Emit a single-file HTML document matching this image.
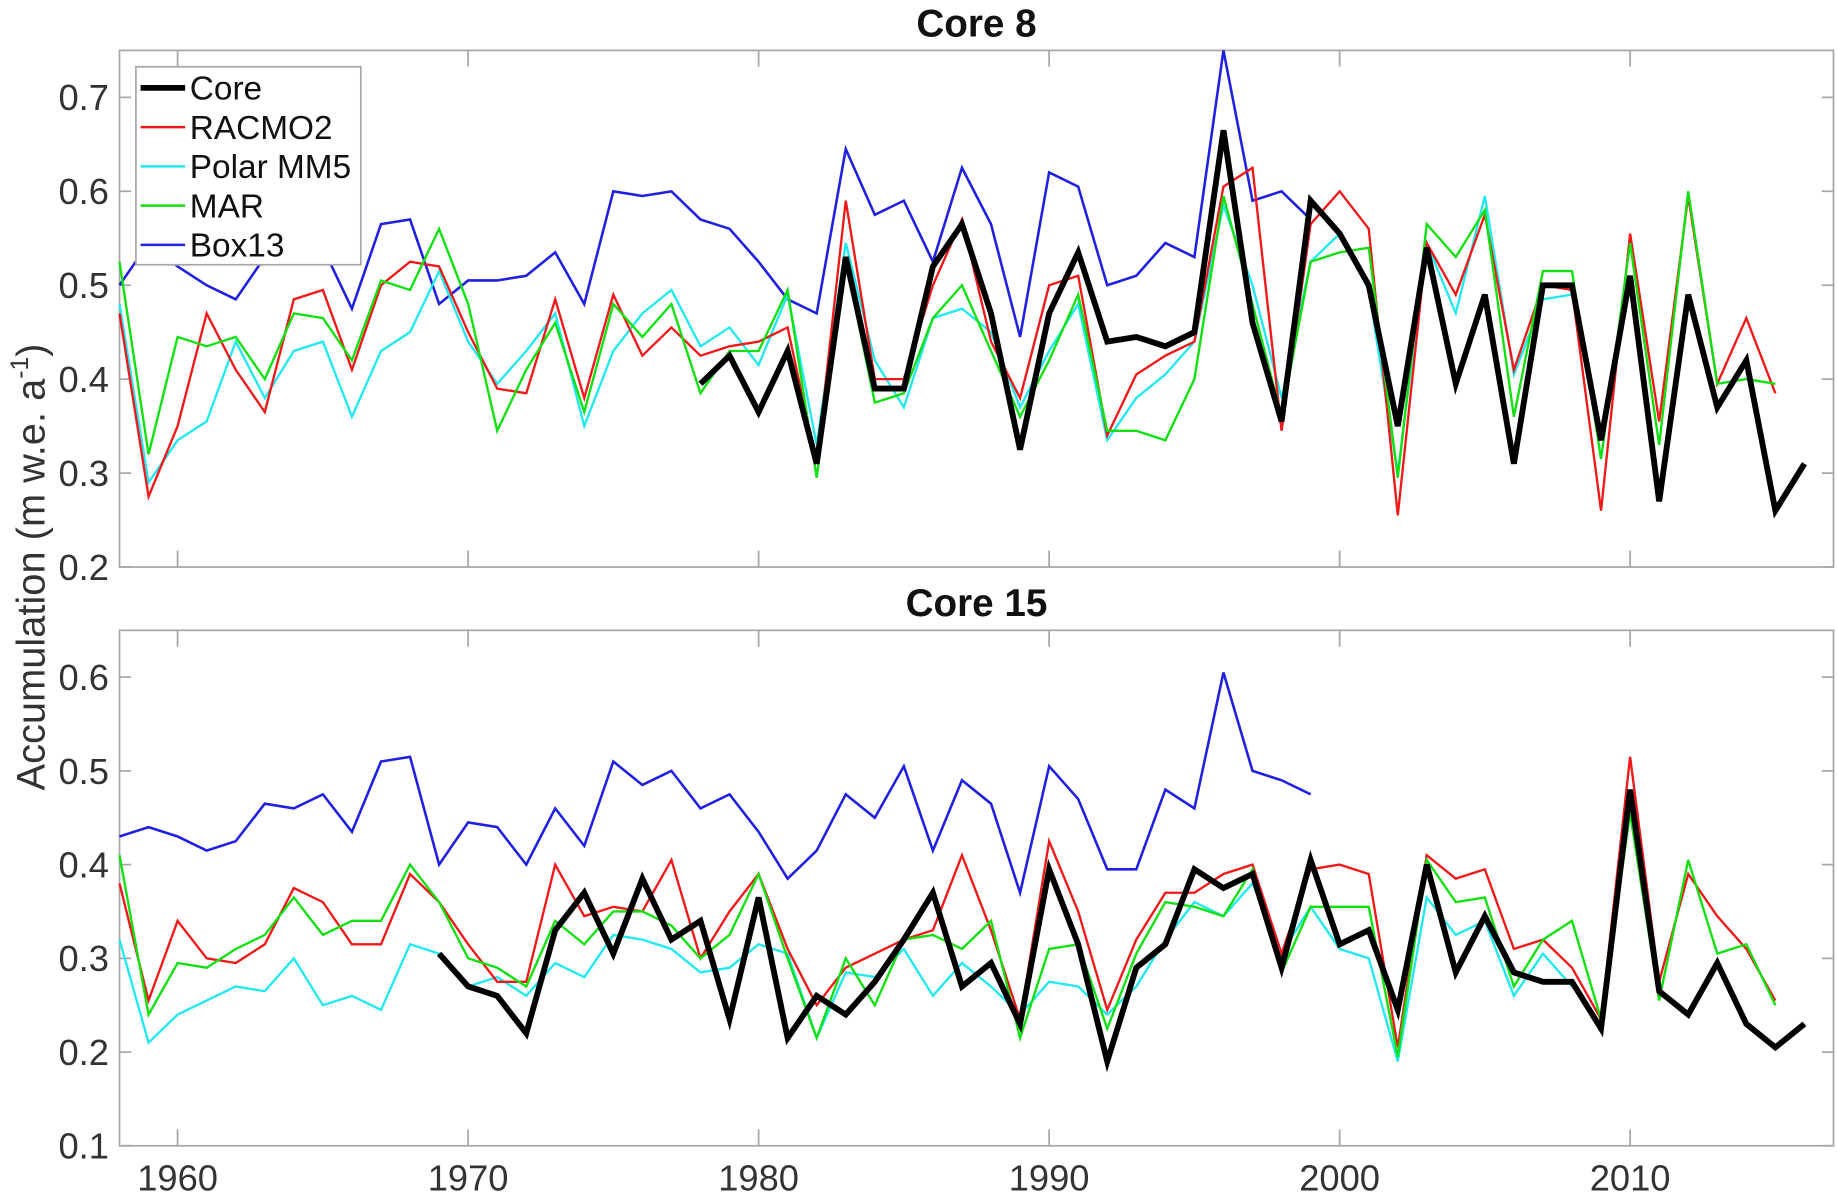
<!DOCTYPE html>
<html><head><meta charset="utf-8"><style>
html,body{margin:0;padding:0;background:#fff;}
svg{display:block;font-family:"Liberation Sans",Arial,sans-serif;}
</style></head><body>
<svg id="chart" width="1837" height="1195" viewBox="0 0 1568 1020" preserveAspectRatio="none" xmlns="http://www.w3.org/2000/svg">
<text transform="translate(38,484) rotate(-90)" text-anchor="middle" font-size="34" fill="#333">Accumulation (m w.e. a<tspan font-size="21" dy="-14">-1</tspan><tspan dy="14">)</tspan></text>
</svg>
<script>
const years0 = 1958;
const xTicks = [1960,1970,1980,1990,2000,2010];
const topTicks = [0.2,0.3,0.4,0.5,0.6,0.7];
const botTicks = [0.1,0.2,0.3,0.4,0.5,0.6];
// Core 8
const c8Core = [0.395,0.425,0.365,0.43,0.31,0.53,0.39,0.39,0.52,0.565,0.47,0.325,0.47,0.535,0.44,0.445,0.435,0.45,0.665,0.46,0.355,0.59,0.555,0.5,0.35,0.54,0.395,0.49,0.31,0.5,0.5,0.335,0.51,0.27,0.49,0.37,0.42,0.26,0.31];
const c8CoreStart = 1978;
const c8Racmo = [0.47,0.275,0.35,0.47,0.41,0.365,0.485,0.495,0.41,0.5,0.525,0.52,0.45,0.39,0.385,0.485,0.38,0.49,0.425,0.455,0.425,0.435,0.44,0.455,0.31,0.59,0.4,0.4,0.5,0.57,0.44,0.38,0.5,0.51,0.34,0.405,0.425,0.44,0.605,0.625,0.345,0.565,0.6,0.56,0.255,0.545,0.49,0.575,0.41,0.5,0.495,0.26,0.555,0.355,0.595,0.395,0.465,0.385];
const c8Polar = [0.48,0.29,0.335,0.355,0.44,0.38,0.43,0.44,0.36,0.43,0.45,0.515,0.44,0.395,0.43,0.47,0.35,0.43,0.47,0.495,0.435,0.455,0.415,0.49,0.33,0.545,0.42,0.37,0.465,0.475,0.45,0.37,0.43,0.48,0.335,0.38,0.405,0.44,0.585,0.5,0.38,0.525,0.555,0.495,0.3,0.545,0.47,0.595,0.405,0.485,0.49];
const c8Mar = [0.525,0.32,0.445,0.435,0.445,0.4,0.47,0.465,0.42,0.505,0.495,0.56,0.48,0.345,0.41,0.46,0.365,0.48,0.445,0.48,0.385,0.43,0.43,0.495,0.295,0.525,0.375,0.385,0.465,0.5,0.43,0.36,0.42,0.49,0.345,0.345,0.335,0.4,0.595,0.48,0.36,0.525,0.535,0.54,0.295,0.565,0.53,0.58,0.36,0.515,0.515,0.315,0.545,0.33,0.6,0.395,0.4,0.395];
const c8Box = [0.5,0.545,0.52,0.5,0.485,0.53,0.54,0.54,0.475,0.565,0.57,0.48,0.505,0.505,0.51,0.535,0.48,0.6,0.595,0.6,0.57,0.56,0.525,0.485,0.47,0.645,0.575,0.59,0.525,0.625,0.565,0.445,0.62,0.605,0.5,0.51,0.545,0.53,0.75,0.59,0.6,0.57];
// Core 15
const c15Core = [0.305,0.27,0.26,0.22,0.33,0.37,0.305,0.385,0.32,0.34,0.235,0.365,0.215,0.26,0.24,0.275,0.32,0.37,0.27,0.295,0.23,0.395,0.315,0.19,0.29,0.315,0.395,0.375,0.39,0.29,0.405,0.315,0.33,0.245,0.4,0.285,0.345,0.285,0.275,0.275,0.225,0.48,0.265,0.24,0.295,0.23,0.205,0.23];
const c15CoreStart = 1969;
const c15Racmo = [0.38,0.255,0.34,0.3,0.295,0.315,0.375,0.36,0.315,0.315,0.39,0.36,0.315,0.275,0.275,0.4,0.345,0.355,0.35,0.405,0.3,0.35,0.39,0.31,0.25,0.29,0.305,0.32,0.33,0.41,0.33,0.235,0.425,0.35,0.245,0.32,0.37,0.37,0.39,0.4,0.305,0.395,0.4,0.39,0.205,0.41,0.385,0.395,0.31,0.32,0.29,0.235,0.515,0.275,0.39,0.345,0.31,0.255];
const c15Polar = [0.32,0.21,0.24,0.255,0.27,0.265,0.3,0.25,0.26,0.245,0.315,0.305,0.27,0.28,0.26,0.295,0.28,0.325,0.32,0.31,0.285,0.29,0.315,0.305,0.215,0.285,0.28,0.31,0.26,0.295,0.27,0.24,0.275,0.27,0.24,0.27,0.32,0.36,0.345,0.38,0.305,0.355,0.31,0.3,0.19,0.365,0.325,0.34,0.26,0.305,0.27];
const c15Mar = [0.41,0.24,0.295,0.29,0.31,0.325,0.365,0.325,0.34,0.34,0.4,0.36,0.3,0.29,0.27,0.34,0.315,0.35,0.35,0.335,0.3,0.325,0.39,0.3,0.215,0.3,0.25,0.32,0.325,0.31,0.34,0.215,0.31,0.315,0.225,0.305,0.36,0.355,0.345,0.395,0.285,0.355,0.355,0.355,0.195,0.405,0.36,0.365,0.27,0.32,0.34,0.235,0.455,0.255,0.405,0.305,0.315,0.25];
const c15Box = [0.43,0.44,0.43,0.415,0.425,0.465,0.46,0.475,0.435,0.51,0.515,0.4,0.445,0.44,0.4,0.46,0.42,0.51,0.485,0.5,0.46,0.475,0.435,0.385,0.415,0.475,0.45,0.505,0.415,0.49,0.465,0.37,0.505,0.47,0.395,0.395,0.48,0.46,0.605,0.5,0.49,0.475];

const NS = "http://www.w3.org/2000/svg";
const svg = document.getElementById('chart');
const X0 = 102, X1 = 1565, XMIN = 1958, XMAX = 2017;
function xs(yr){ return X0 + (yr - XMIN) / (XMAX - XMIN) * (X1 - X0); }
function mk(tag, attrs){ const e = document.createElementNS(NS, tag); for (const k in attrs) e.setAttribute(k, attrs[k]); svg.appendChild(e); return e; }

function panel(name, top, bottom, ymin, ymax, ticks, title, series){
  const ys = v => bottom - (v - ymin) / (ymax - ymin) * (bottom - top);
  const frame = mk('rect', {x:X0, y:top, width:X1-X0, height:bottom-top, fill:'none', stroke:'#a8a8a8', 'stroke-width':1.5});
  
  
  ticks.forEach(t => {
    const y = ys(t);
    const l = mk('path', {d:`M${X0},${y}h10M${X1},${y}h-10`, stroke:'#a8a8a8', 'stroke-width':1.5});
    
    
    const tx = mk('text', {x:X0-9, y:y+11, 'text-anchor':'end', 'font-size':31, fill:'#333'});
    tx.textContent = t.toFixed(1);
    
    
  });
  xTicks.forEach(t => {
    const x = xs(t);
    const l = mk('path', {d:`M${x},${bottom}v-14M${x},${top}v14`, stroke:'#a8a8a8', 'stroke-width':1.5});
    
    
    if (name === 'core15') {
      const tx = mk('text', {x:x, y:bottom+38, 'text-anchor':'middle', 'font-size':31, fill:'#333'});
      tx.textContent = t;
      
      
    }
  });
  const tt = mk('text', {x:(X0+X1)/2, y:top-12, 'text-anchor':'middle', 'font-size':33, 'font-weight':'bold', fill:'#111'});
  tt.textContent = title;
  
  
  series.forEach(s => {
    const d = s.vals.map((v,i) => (i ? 'L' : 'M') + xs(s.start + i).toFixed(1) + ',' + ys(v).toFixed(1)).join('');
    const p = mk('path', {d:d, fill:'none', stroke:s.color, 'stroke-width':s.w, 'stroke-linejoin':'miter'});
    
    
  });
}
const cyan='#22e8f0', red='#f01818', green='#10e010', blue='#2020e0';
panel('core8', 43, 484, 0.2, 0.75, topTicks, 'Core 8', [
  {key:'box13', vals:c8Box, start:years0, color:blue, w:2.2},
  {key:'polar-mm5', vals:c8Polar, start:years0, color:cyan, w:2},
  {key:'racmo2', vals:c8Racmo, start:years0, color:red, w:2},
  {key:'mar', vals:c8Mar, start:years0, color:green, w:2},
  {key:'core', vals:c8Core, start:c8CoreStart, color:'#000', w:5}
]);
panel('core15', 538, 978, 0.1, 0.65, botTicks, 'Core 15', [
  {key:'box13', vals:c15Box, start:years0, color:blue, w:2.2},
  {key:'polar-mm5', vals:c15Polar, start:years0, color:cyan, w:2},
  {key:'racmo2', vals:c15Racmo, start:years0, color:red, w:2},
  {key:'mar', vals:c15Mar, start:years0, color:green, w:2},
  {key:'core', vals:c15Core, start:c15CoreStart, color:'#000', w:5}
]);
// legend
const legNames = ['Core','RACMO2','Polar MM5','MAR','Box13'];
const legColors = ['#000',red,cyan,green,blue];
const lb = mk('rect', {x:116, y:57, width:192, height:169, fill:'#fff', stroke:'#a8a8a8', 'stroke-width':1.5});


legNames.forEach((n,i) => {
  const y = 75 + i*33.5;
  const l = mk('line', {x1:120, x2:158, y1:y, y2:y, stroke:legColors[i], 'stroke-width': i===0 ? 5 : 2.2});
  
  
  const t = mk('text', {x:162, y:y+10, 'font-size':28.5, fill:'#111', textLength: n.length>6 ? undefined : null});
  t.removeAttribute('textLength');
  t.textContent = n;
  
  
});
</script>
</body></html>
